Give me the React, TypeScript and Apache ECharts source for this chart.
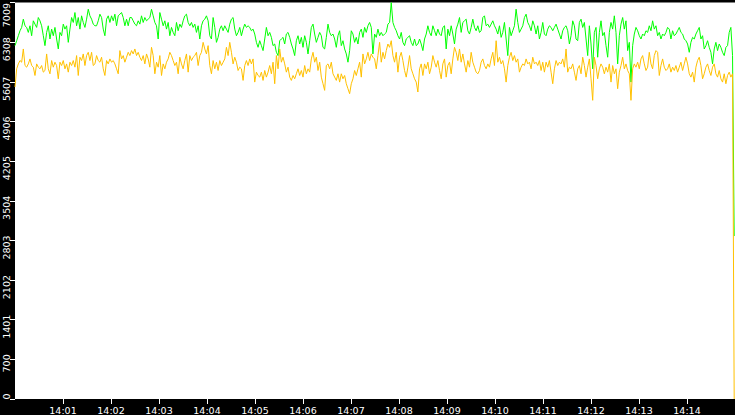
import React, { useEffect, useRef } from "react";
import * as echarts from "echarts";

// time axis: seconds after 14:00:00
const xTickSeconds = [60, 120, 180, 240, 300, 360, 420, 480, 540, 600, 660, 720, 780, 840];
const spanSeconds = 900;
const endSecond = 899;
const yMax = 7009;
const yInterval = 700.9;

// green series (upper)
const greenA = [
  6248, 6335, 6423, 6511, 6570, 6716, 6599, 6570, 6482, 6599,
  6423, 6687, 6628, 6570, 6745, 6687, 6599, 6423, 6248, 6482,
  6599, 6365, 6540, 6423, 6570, 6365, 6189, 6482, 6423, 6628,
  6540, 6599, 6306, 6540, 6745, 6658, 6833, 6599, 6745, 6540,
  6775, 6658, 6570, 6716, 6892, 6775, 6716, 6628, 6599, 6599,
  6687, 6804, 6745, 6540, 6423, 6716, 6775, 6658, 6775, 6687,
  6804, 6599, 6775, 6804, 6833, 6745, 6599, 6716, 6599, 6745,
  6745, 6687, 6628, 6599, 6687, 6628, 6775, 6658, 6745, 6687,
  6716, 6745, 6892, 6775, 6658, 6599, 6365, 6833, 6716, 6599,
  6687, 6540, 6658, 6423, 6570, 6482, 6423, 6658, 6511, 6628,
  6570, 6687, 6775, 6804, 6658, 6599, 6658, 6570,
];
const greenB = [
  6628, 6482, 6599, 6365, 6599, 6687, 6716, 6775, 6687, 6423,
  6365, 6745, 6570, 6306, 6394, 6540, 6599, 6511, 6599, 6540,
  6482, 6628, 6716, 6745, 6540, 6423, 6482, 6570, 6423, 6540,
  6628, 6570, 6599, 6570, 6511, 6540, 6453, 6306, 6218, 6335,
  6248, 6160, 6365, 6570, 6423, 6482, 6394, 6248, 6277, 6130,
  6072, 6335, 6365, 6394, 6277, 6453, 6482, 6394, 6277, 6189,
  6072, 6335, 6423, 6277, 6394, 6218, 6423, 6306, 6101, 6335,
  6570, 6628, 6453, 6306, 6394, 6482, 6423, 6218, 6189, 6394,
  6628, 6482, 6423, 6453, 6365, 6218, 6423, 6511, 6248, 6335,
  6189, 6101, 5955, 6160, 6511, 6453, 6306, 6394, 6277, 6482,
  6540, 6394, 6570, 6482, 6599, 6658, 6570, 6101,
];
const greenC = [
  6453, 6394, 6540, 6423, 6482, 6423, 6453, 6482, 6628, 6658,
  7009, 6658, 6570, 6511, 6423, 6365, 6482, 6306, 6248, 6365,
  6394, 6423, 6306, 6248, 6365, 6248, 6277, 6365, 6277, 6160,
  6365, 6453, 6599, 6482, 6423, 6599, 6511, 6423, 6540, 6453,
  6423, 6570, 6599, 6189, 6540, 6423, 6599, 6453, 6277, 6540,
  6628, 6745, 6482, 6658, 6687, 6716, 6511, 6453, 6570, 6716,
  6570, 6511, 6599, 6482, 6511, 6745, 6775, 6599, 6628, 6570,
  6628, 6687, 6599, 6540, 6453, 6599, 6394, 6482, 6658, 6365,
  6072, 6570, 6423, 6511, 6599, 6892, 6658, 6482, 6540, 6599,
  6745, 6804, 6658, 6599, 6511, 6687, 6599, 6453, 6599, 6365,
  6482, 6658, 6453, 6423, 6540, 6599, 6570, 6511,
];
const greenD = [
  6570, 6628, 6540, 6453, 6365, 6511, 6570, 6599, 6511, 6277,
  6423, 6687, 6599, 6365, 6335, 6658, 6716, 6570, 6658, 6365,
  6072, 6599, 6277, 5838, 6482, 6570, 6043, 6482, 6687, 6423,
  6482, 6248, 6043, 6482, 6658, 6540, 6775, 6482, 5925, 6423,
  6628, 6745, 6540, 6687, 6160, 6306, 5603, 6248, 6453, 6570,
  6511, 6423, 6365, 6453, 6423, 6511, 6482, 6599, 6511, 6687,
  6540, 6599, 6423, 6482, 6365, 6453, 6423, 6482, 6570, 6540,
  6365, 6511, 6423, 6453, 6511, 6570, 6482, 6453, 6365, 6335,
  6277, 6130, 6306, 6394, 6365, 6453, 6511, 6570, 6365, 6423,
  6189, 6248, 6335, 6218, 6130, 5925, 6189, 6306, 6160, 6277,
  6218, 6130, 6072, 6218, 6248, 6482, 6570, 6072,
];
const greenEnd = 2881;

// yellow series (lower)
const yellowA = [
  5516, 5838, 5925, 5984, 5955, 6189, 5896, 5867, 5925, 6013,
  5896, 5867, 5720, 5925, 5867, 5838, 5896, 5779, 5808, 6101,
  5838, 5750, 5984, 5867, 5955, 5896, 5662, 5955, 5896, 5984,
  5838, 5925, 5779, 5955, 5896, 5984, 5867, 6072, 5720, 6043,
  5984, 6101, 5896, 6072, 6130, 5984, 6130, 5896, 5925, 6072,
  5984, 5955, 6043, 5838, 5720, 5984, 5925, 6013, 5955, 5984,
  5925, 5838, 5750, 6160, 6013, 6072, 5955, 6043, 6130, 6072,
  6160, 6101, 6189, 6072, 6130, 6043, 5984, 6072, 5925, 6101,
  6013, 5867, 6218, 6072, 5750, 5955, 5867, 6072, 5720, 5925,
  5838, 5955, 6013, 6130, 6072, 5984, 5896, 5955, 5750, 6043,
  5925, 5838, 5984, 6101, 5779, 6072, 5984, 6043,
];
const yellowB = [
  6072, 6130, 5896, 6072, 6130, 6306, 6189, 6101, 6248, 5896,
  5750, 5984, 5838, 5955, 5808, 5984, 5896, 5955, 6013, 6218,
  6072, 6306, 6130, 5925, 6043, 5955, 5808, 5867, 5838, 5633,
  5896, 5984, 5896, 6013, 5925, 6013, 5603, 5779, 5720, 5691,
  5779, 5633, 5808, 5691, 5779, 5896, 5750, 5955, 5574, 6072,
  5838, 6189, 5955, 6043, 5925, 5779, 5867, 5691, 5633, 5720,
  5662, 5750, 5838, 5720, 5808, 5691, 5896, 5750, 5838, 5779,
  6013, 6130, 5955, 6043, 5808, 5955, 5691, 5574, 5457, 5896,
  5925, 5838, 5955, 5750, 5691, 5633, 5750, 5603, 5750, 5662,
  5720, 5574, 5486, 5398, 5574, 5662, 5808, 5720, 5838, 5955,
  5691, 6101, 5925, 6013, 6130, 5984, 6101, 6043,
];
const yellowC = [
  6013, 5838, 6072, 6306, 5955, 6130, 6013, 6160, 6277, 6218,
  6335, 6072, 5955, 6130, 5779, 6043, 6130, 5984, 5808, 5691,
  5867, 6072, 5838, 5750, 5662, 5603, 5428, 5838, 5925, 5720,
  5925, 5838, 5955, 5750, 5867, 6072, 5955, 5867, 5984, 5808,
  5662, 5925, 6013, 5691, 5896, 5955, 5750, 6013, 6218, 6130,
  5984, 6189, 5955, 6101, 5925, 5779, 5984, 5867, 6130, 5955,
  5867, 5779, 5750, 5808, 5955, 6013, 5896, 5838, 5925, 5867,
  6013, 6130, 5896, 6335, 5955, 6043, 5925, 5984, 5838, 5603,
  5896, 6043, 6130, 5984, 6072, 5955, 6013, 5779, 5867, 5925,
  5896, 6013, 5925, 5955, 5838, 6043, 5925, 5955, 5896, 5984,
  5808, 5955, 5779, 5955, 5867, 5984, 5779, 5574,
];
const yellowD = [
  5838, 5984, 5896, 5955, 5925, 6013, 5867, 6189, 5779, 5867,
  5838, 5925, 5779, 5633, 5838, 5896, 5750, 6043, 5896, 5691,
  5867, 6013, 5662, 5281, 6043, 5896, 5662, 5838, 5925, 5867,
  5750, 5867, 5779, 5925, 5603, 5896, 5750, 5838, 5486, 5779,
  5896, 6043, 5838, 5925, 5808, 5750, 5281, 5838, 5925, 5867,
  5955, 5838, 6013, 6072, 5925, 5808, 5867, 6130, 5925, 5838,
  6072, 6160, 6130, 5720, 5896, 6013, 5867, 5808, 5838, 5925,
  5779, 5867, 5808, 5896, 5779, 5867, 5955, 5808, 5925, 6043,
  5925, 5750, 5691, 5779, 5603, 5867, 5984, 6043, 5896, 5662,
  5750, 5867, 5925, 5808, 5720, 5867, 5925, 5750, 5691, 5808,
  5662, 5603, 5750, 5574, 5720, 5779, 5691, 5750,
];
const yellowEnd = 0;

function toPoints(values: number[], endValue: number): [number, number][] {
  const step = endSecond / values.length;
  const pts: [number, number][] = values.map((v, i) => [i * step, v]);
  pts.push([endSecond, endValue]);
  return pts;
}

const FONT = "DejaVu Sans";

export default function App() {
  const ref = useRef<HTMLDivElement>(null);
  useEffect(() => {
    if (!ref.current) return;
    const chart = echarts.init(ref.current, undefined, { renderer: "svg" });
    const green = toPoints([...greenA, ...greenB, ...greenC, ...greenD], greenEnd);
    const yellow = toPoints([...yellowA, ...yellowB, ...yellowC, ...yellowD], yellowEnd);
    const richBase = { color: "#ffffff", fontSize: 9.5, fontFamily: FONT };
    chart.setOption({
      animation: false,
      backgroundColor: "#000000",
      grid: {
        left: 15,
        right: 0,
        top: 0,
        bottom: 16,
        show: true,
        backgroundColor: "#ffffff",
        borderWidth: 0,
      },
      xAxis: {
        type: "value",
        min: 0,
        max: spanSeconds,
        interval: 60,
        axisLine: { show: false },
        splitLine: { show: false },
        axisTick: {
          show: true,
          length: 5,
          customValues: xTickSeconds,
          lineStyle: { color: "#ffffff", width: 1 },
        },
        axisLabel: {
          customValues: xTickSeconds,
          color: "#ffffff",
          fontSize: 9.5,
          fontFamily: FONT,
          margin: 6,
          formatter: (v: number) => "14:" + String(Math.round(v / 60)).padStart(2, "0"),
        },
      },
      yAxis: {
        type: "value",
        min: 0,
        max: yMax,
        interval: yInterval,
        axisLine: { show: false },
        splitLine: { show: false },
        axisTick: { show: true, length: 5, lineStyle: { color: "#ffffff", width: 1 } },
        axisLabel: {
          rotate: 90,
          margin: 4,
          align: "center",
          verticalAlign: "bottom",
          color: "#ffffff",
          fontSize: 9.5,
          fontFamily: FONT,
          formatter: (v: number) => {
            const s = String(Math.floor(v + 1e-6));
            if (Math.abs(v - yMax) < 1e-3) return "{t|" + s + "}";
            if (s.length === 1) return "{a|" + s + "}";
            if (s.length === 3) return "{b|" + s + "}";
            return "{c|" + s + "}";
          },
          rich: {
            a: { ...richBase, padding: [0, 0, 0, 5] },
            b: { ...richBase, padding: [0, 8, 0, 0] },
            c: { ...richBase, padding: [0, 14, 0, 0] },
            t: { ...richBase, padding: [0, 25, 0, 0] },
          },
        },
      },
      series: [
        {
          type: "line",
          data: green,
          symbol: "none",
          lineStyle: { color: "#00ff00", width: 1 },
          itemStyle: { color: "#00ff00" },
          silent: true,
        },
        {
          type: "line",
          data: yellow,
          symbol: "none",
          lineStyle: { color: "#ffc000", width: 1 },
          itemStyle: { color: "#ffc000" },
          silent: true,
        },
      ],
    });
    return () => chart.dispose();
  }, []);
  return (
    <div
      ref={ref}
      style={{ position: "fixed", left: 0, top: 0, width: 735, height: 415 }}
    />
  );
}
